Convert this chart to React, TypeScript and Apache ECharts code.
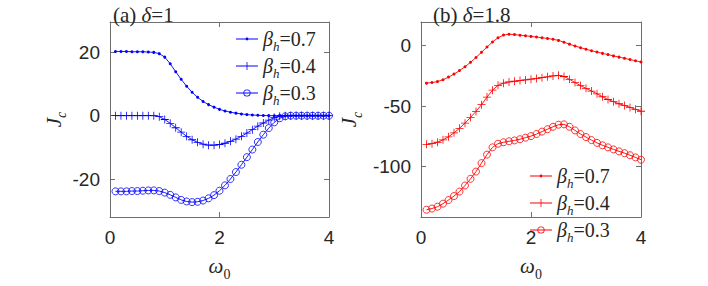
import React, { useEffect, useRef } from "react";
import * as echarts from "echarts";

const omega = [0.1, 0.2, 0.3, 0.4, 0.5, 0.6, 0.7, 0.8, 0.9, 1.0, 1.1, 1.2, 1.3, 1.4, 1.5, 1.6, 1.7, 1.8, 1.9, 2.0, 2.1, 2.2, 2.3, 2.4, 2.5, 2.6, 2.7, 2.8, 2.9, 3.0, 3.1, 3.2, 3.3, 3.4, 3.5, 3.6, 3.7, 3.8, 3.9, 4.0];

// panel (a) delta = 1
const a07 = [20.3, 20.3, 20.3, 20.2, 20.2, 20.2, 20.1, 20.0, 19.6, 18.5, 16.4, 13.9, 11.5, 9.3, 7.4, 5.8, 4.5, 3.5, 2.7, 2.0, 1.5, 1.1, 0.8, 0.55, 0.35, 0.22, 0.12, 0.06, 0.02, 0, 0, 0, 0, 0, 0, 0, 0, 0, 0, 0];
const a04 = [0, 0, 0, 0, 0, 0, 0, 0, -0.3, -1.2, -2.4, -3.8, -5.2, -6.5, -7.6, -8.4, -9.0, -9.3, -9.3, -9.1, -8.7, -8.1, -7.4, -6.5, -5.5, -4.4, -3.3, -2.3, -1.4, -0.6, -0.15, 0, 0, 0, 0, 0, 0, 0, 0, 0];
const a03 = [-23.9, -23.9, -23.9, -23.8, -23.8, -23.7, -23.6, -23.6, -23.8, -24.3, -25.0, -25.8, -26.6, -27.1, -27.3, -27.2, -26.8, -26.1, -25.1, -23.7, -22.0, -20.0, -17.8, -15.5, -13.1, -10.7, -8.3, -6.0, -3.9, -2.1, -0.8, -0.2, 0, 0, 0, 0, 0, 0, 0, 0];

// panel (b) delta = 1.8
const b07 = [-31.0, -30.5, -29.7, -28.2, -26.0, -23.5, -20.6, -17.4, -13.8, -9.8, -5.5, -1.2, 3.0, 6.5, 8.7, 9.4, 9.1, 8.6, 8.1, 7.6, 7.1, 6.5, 5.9, 5.2, 4.3, 2.8, 1.2, -0.3, -1.7, -3.0, -4.2, -5.3, -6.4, -7.4, -8.5, -9.5, -10.5, -11.5, -12.5, -13.5];
const b04 = [-81.5, -81.0, -79.8, -77.8, -75.3, -72.0, -68.3, -64.0, -59.3, -54.3, -48.8, -42.5, -36.8, -32.8, -31.0, -30.0, -29.4, -28.9, -28.3, -27.7, -27.1, -26.5, -25.8, -25.0, -24.5, -25.5, -27.8, -30.5, -33.0, -35.3, -37.5, -39.8, -42.2, -44.5, -46.3, -48.0, -49.5, -51.0, -52.6, -54.2];
const b03 = [-135.5, -134.5, -133.0, -130.5, -127.5, -124.2, -120.5, -115.5, -110.0, -104.0, -97.0, -90.0, -84.0, -81.0, -79.8, -79.0, -78.3, -77.3, -76.0, -74.7, -73.0, -71.0, -69.0, -67.0, -65.3, -65.0, -67.0, -70.0, -73.0, -75.5, -78.0, -80.3, -82.3, -84.0, -85.7, -87.3, -88.8, -90.5, -92.3, -94.2];

const legendNames = ["βh=0.7", "βh=0.4", "βh=0.3"];
const xTicks = [0, 2, 4];
const yTicksA = [-20, 0, 20];
const yTicksB = [-100, -50, 0];

const AX = "#6e6e6e";
const TXT = "#262626";
const SERIF = "'Liberation Serif', 'DejaVu Serif', serif";
const SANS = "'Liberation Sans', Arial, sans-serif";

const PLUS = "path://M-0.1,-1H0.1V-0.1H1V0.1H0.1V1H-0.1V0.1H-1V-0.1H-0.1Z";

// legend icons: line + marker, drawn in a 22 x 8 box
const LINE = "M0,3.6H22V4.4H0Z";
const ICON_DOT = "path://" + LINE + "M9.6,4A1.4,1.4 0 1,1 12.4,4A1.4,1.4 0 1,1 9.6,4Z";
const ICON_PLUS = "path://" + LINE + "M10.6,0H11.4V8H10.6ZM7,3.6H15V4.4H7Z";
const ICON_RING = "path://" + LINE + "M7.4,4A3.6,3.6 0 1,1 14.6,4A3.6,3.6 0 1,1 7.4,4ZM8.2,4A2.8,2.8 0 1,0 13.8,4A2.8,2.8 0 1,0 8.2,4Z";
const legendIcons = [ICON_DOT, ICON_PLUS, ICON_RING];

const richMath = {
  i: { fontFamily: SERIF, fontStyle: "italic", fontSize: 21, color: TXT, lineHeight: 24 },
  r: { fontFamily: SERIF, fontSize: 21, color: TXT, lineHeight: 24 },
  s: { fontFamily: SERIF, fontStyle: "italic", fontSize: 14, color: TXT, lineHeight: 14, verticalAlign: "bottom", padding: [0, 0, -3, 0] },
  sr: { fontFamily: SERIF, fontSize: 14, color: TXT, lineHeight: 14, verticalAlign: "bottom", padding: [0, 0, -3, 0] },
};

function pairs(ys: number[]) {
  return omega.map((x, i) => [x, ys[i]]);
}

function makeSeries(color: string, data: number[][], xi: number, yi: number) {
  const base = { type: "line", xAxisIndex: xi, yAxisIndex: yi, lineStyle: { color, width: 0.9 } };
  return [
    { ...base, name: legendNames[0], data: pairs(data[0]), symbol: "circle", symbolSize: 3, itemStyle: { color } },
    { ...base, name: legendNames[1], data: pairs(data[1]), symbol: PLUS, symbolSize: 8, itemStyle: { color } },
    { ...base, name: legendNames[2], data: pairs(data[2]), symbol: "circle", symbolSize: 7, itemStyle: { color: "rgba(0,0,0,0)", borderColor: color, borderWidth: 0.8 } },
  ];
}

function xAxes(grid: number) {
  const common = {
    type: "value", gridIndex: grid, min: 0, max: 4,
    axisLine: { show: true, onZero: false, lineStyle: { color: AX, width: 1 } },
    axisTick: { show: true, inside: true, length: 5, lineStyle: { color: AX }, customValues: xTicks },
    splitLine: { show: false },
  };
  return [
    {
      ...common, position: "bottom",
      axisLabel: { show: true, color: TXT, fontFamily: SANS, fontSize: 19, margin: 11, customValues: xTicks },
      name: "{i|ω}{sr|0}", nameLocation: "middle", nameGap: 37,
      nameTextStyle: { rich: richMath },
    },
    { ...common, position: "top", axisLabel: { show: false } },
  ];
}

function yAxes(grid: number, min: number, max: number, ticks: number[], gap: number) {
  const common = {
    type: "value", gridIndex: grid, min, max,
    axisLine: { show: true, onZero: false, lineStyle: { color: AX, width: 1 } },
    axisTick: { show: true, inside: true, length: 5, lineStyle: { color: AX }, customValues: ticks },
    splitLine: { show: false },
  };
  return [
    {
      ...common, position: "left",
      axisLabel: { show: true, color: TXT, fontFamily: SANS, fontSize: 19, margin: 10, customValues: ticks },
      name: "{i|J}{s|c}", nameLocation: "middle", nameGap: gap,
      nameTextStyle: { rich: richMath },
    },
    { ...common, position: "right", axisLabel: { show: false } },
  ];
}

const legendRich = {
  b: { fontFamily: SERIF, fontStyle: "italic", fontSize: 20, color: TXT, lineHeight: 20 },
  h: { fontFamily: SERIF, fontStyle: "italic", fontSize: 13, color: TXT, lineHeight: 12, verticalAlign: "bottom", padding: [0, 0, -4, 0] },
  t: { fontFamily: SERIF, fontSize: 20, color: TXT, lineHeight: 20 },
};
const legendFormatter = (name: string) => "{b|β}{h|h}{t|" + name.slice(2) + "}";

function legendData(color: string) {
  return legendNames.map((n, i) => ({ name: n, icon: legendIcons[i], itemStyle: { color, borderWidth: 0, opacity: 1 } }));
}

export default function App() {
  const ref = useRef<HTMLDivElement>(null);
  useEffect(() => {
    document.body.style.margin = "0";
    if (!ref.current) return;
    const chart = echarts.init(ref.current, undefined, { renderer: "svg" });
    chart.setOption({
      animation: false,
      backgroundColor: "#ffffff",
      title: [
        { text: "{r|(a) }{i|δ}{r|=1}", left: 108, top: -2, textStyle: { fontFamily: SERIF, fontSize: 21, color: TXT, fontWeight: "normal", rich: richMath } },
        { text: "{r|(b) }{i|δ}{r|=1.8}", left: 428, top: -2, textStyle: { fontFamily: SERIF, fontSize: 21, color: TXT, fontWeight: "normal", rich: richMath } },
      ],
      grid: [
        { left: 110, right: 379, top: 22, bottom: 58 },
        { left: 421, right: 67, top: 22, bottom: 58 },
      ],
      legend: [
        {
          data: legendData("#0000ff"), orient: "vertical", left: 231, top: 24, itemGap: 3, itemWidth: 22, itemHeight: 8,
          formatter: legendFormatter, textStyle: { rich: legendRich }, selectedMode: false,
        },
        {
          data: legendData("#ff0000"), orient: "vertical", left: 525, top: 161, itemGap: 3, itemWidth: 22, itemHeight: 8,
          formatter: legendFormatter, textStyle: { rich: legendRich }, selectedMode: false,
        },
      ],
      xAxis: [...xAxes(0), ...xAxes(1)],
      yAxis: [...yAxes(0, -32, 29.6, yTicksA, 43), ...yAxes(1, -141.5, 19.5, yTicksB, 60)],
      series: [
        ...makeSeries("#0000ff", [a07, a04, a03], 0, 0),
        ...makeSeries("#ff0000", [b07, b04, b03], 2, 2),
      ],
    } as any);
    return () => chart.dispose();
  }, []);
  return <div ref={ref} style={{ width: 708, height: 286 }} />;
}
